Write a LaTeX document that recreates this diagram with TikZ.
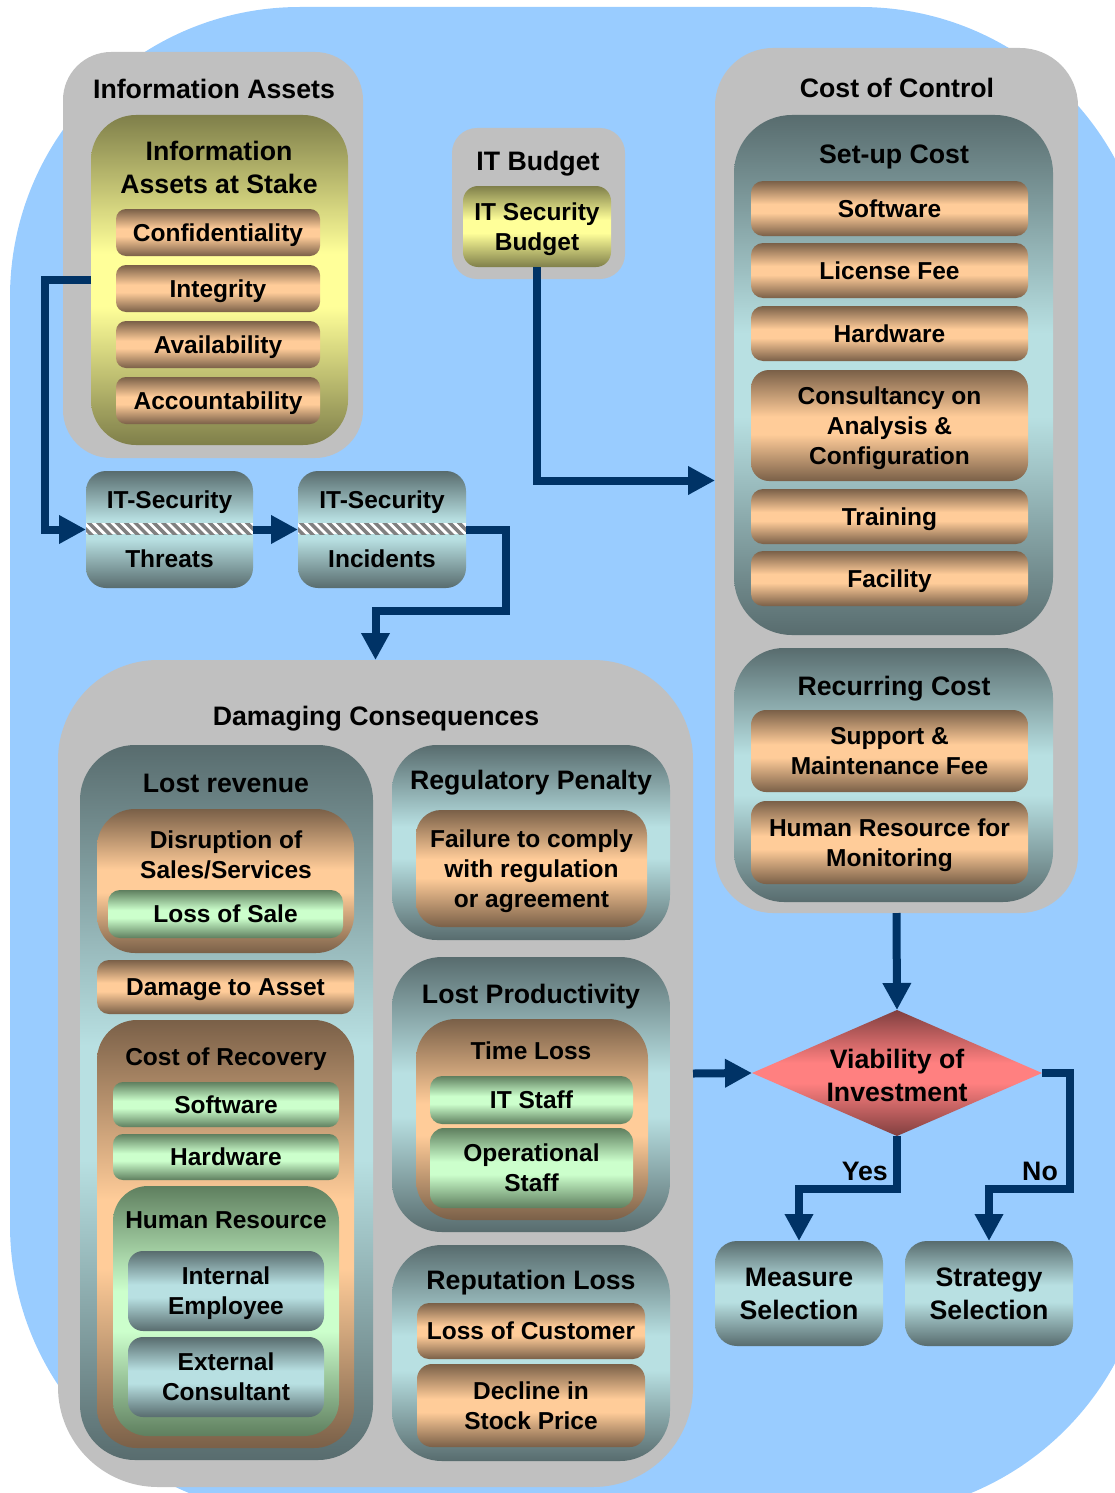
\documentclass[tikz,border=0pt]{standalone}
\usepackage{fontspec}
\setmainfont{Liberation Sans}
\usetikzlibrary{arrows.meta,shapes.geometric}

% palette
\definecolor{skyback}{HTML}{99CCFF}
\definecolor{panelgray}{HTML}{C0C0C0}
\definecolor{flowblue}{HTML}{003366}
\definecolor{slateD}{HTML}{586C6E}
\definecolor{slateL}{HTML}{B8E0E2}
\definecolor{peachD}{HTML}{7A6048}
\definecolor{peachL}{HTML}{FFCC99}
\definecolor{greenD}{HTML}{5F7F5F}
\definecolor{greenL}{HTML}{CCFFCC}
\definecolor{oliveD}{HTML}{7F7F4A}
\definecolor{oliveL}{HTML}{FFFF99}
\definecolor{roseD}{HTML}{803F3F}
\definecolor{roseL}{HTML}{FF8080}
\definecolor{hatchgray}{HTML}{808080}

% dark - light - dark vertical gradients
\newcommand\mirrorshade[3]{\pgfdeclareverticalshading{#1}{100bp}{color(0bp)=(#2); color(25bp)=(#2); color(46bp)=(#3); color(54bp)=(#3); color(75bp)=(#2); color(100bp)=(#2)}}
\mirrorshade{slateshade}{slateD}{slateL}
\mirrorshade{peachshade}{peachD}{peachL}
\mirrorshade{greenshade}{greenD}{greenL}
\mirrorshade{oliveshade}{oliveD}{oliveL}
\mirrorshade{roseshade}{roseD}{roseL}

\newcommand\TitleFont{\fontsize{26.7pt}{33pt}\selectfont\bfseries}
\newcommand\ItemFont{\fontsize{24.5pt}{30pt}\selectfont\bfseries}

% rounded box given by its corners: style, name, x1, y1, x2, y2, text
\newcommand\rbox[7]{\node[#1,minimum width={(#5)-(#3)},minimum height={(#6)-(#4)}] (#2) at ({((#3)+(#5))/2},{((#4)+(#6))/2}) {#7};}

% striped band across a box: x1, x2
\newcommand\hatchband[2]{%
  \begin{scope}
    \clip (#1,523) rectangle (#2,534);
    \fill[white] (#1,523) rectangle (#2,534);
    \foreach \k in {-2,...,20}
      \draw[hatchgray,line width=3.5pt] ({#1+\k*9.3},520) -- ({#1+\k*9.3+17},537);
  \end{scope}}

\begin{document}
\begin{tikzpicture}[x=1pt,y=-1pt,
  box/.style={rectangle,inner sep=0pt,outer sep=0pt,align=center,text depth=0pt,font=\ItemFont},
  panelbox/.style={box,fill=panelgray,rounded corners=#1pt},
  sbox/.style={box,shading=slateshade,rounded corners=#1pt},
  pbox/.style={box,shading=peachshade,rounded corners=#1pt},
  gbox/.style={box,shading=greenshade,rounded corners=#1pt},
  obox/.style={box,shading=oliveshade,rounded corners=#1pt},
  head/.style={anchor=base,inner sep=0pt,align=center,font=\TitleFont},
  subhead/.style={anchor=base,inner sep=0pt,align=center,font=\ItemFont},
  flow/.style={draw=flowblue,line width=8pt,-{Triangle[length=27pt,width=27pt]}},
  answer/.style={anchor=base east,inner sep=0pt,font=\TitleFont},
]
\useasboundingbox (0,0) rectangle (1115,1493);

% backdrop
\begin{scope}
  \clip (0,0) rectangle (1115,1493);
  \fill[skyback,rounded corners=290pt] (10,7) rectangle (1150,1515);
\end{scope}

% ---------- information assets ----------
\rbox{panelbox=48}{infoP}{63}{52}{363}{458}{}
\node[head] (infoPT) at (214,99) {Information Assets};
\rbox{obox=45}{infoIn}{91}{115}{348}{445}{}
\node[head,anchor=center] (infoInT) at (219,167) {Information\\Assets at Stake};
\rbox{pbox=10}{conf}{116}{209}{320}{256}{Confidentiality}
\rbox{pbox=10}{integ}{116}{265}{320}{312}{Integrity}
\rbox{pbox=10}{avail}{116}{321}{320}{368}{Availability}
\rbox{pbox=10}{acct}{116}{377}{320}{424}{Accountability}

% ---------- threats and incidents ----------
\rbox{sbox=20}{threats}{86}{471}{253}{588}{IT-Security\\[29pt]Threats}
\hatchband{86}{253}
\rbox{sbox=20}{incid}{298}{471}{466}{588}{IT-Security\\[29pt]Incidents}
\hatchband{298}{466}

% ---------- IT budget ----------
\rbox{panelbox=25}{budgetP}{452}{128}{625}{279}{}
\node[head] (budgetPT) at (538,170) {IT Budget};
\rbox{obox=15}{budgetIn}{463}{186}{611}{267}{IT Security\\Budget}

% ---------- cost of control ----------
\rbox{panelbox=58}{cost}{715}{48}{1078}{913}{}
\node[head] (costT) at (897,98) {Cost of Control};
\rbox{sbox=58}{setup}{734}{115}{1053}{635}{}
\node[head] (setupT) at (894,164) {Set-up Cost};
\rbox{pbox=12}{suSoft}{751}{181}{1028}{236}{Software}
\rbox{pbox=12}{suLic}{751}{243}{1028}{298}{License Fee}
\rbox{pbox=12}{suHard}{751}{306}{1028}{361}{Hardware}
\rbox{pbox=18}{suCons}{751}{370}{1028}{481}{Consultancy on\\Analysis \&\\Configuration}
\rbox{pbox=12}{suTrain}{751}{489}{1028}{544}{Training}
\rbox{pbox=12}{suFac}{751}{551}{1028}{606}{Facility}
\rbox{sbox=50}{recur}{734}{648}{1053}{902}{}
\node[head] (recurT) at (894,695) {Recurring Cost};
\rbox{pbox=15}{reSupp}{751}{710}{1028}{792}{Support \&\\Maintenance Fee}
\rbox{pbox=15}{reHR}{751}{801}{1028}{884}{Human Resource for\\Monitoring}

% ---------- damaging consequences ----------
\rbox{panelbox=100}{damage}{58}{660}{693}{1487}{}
\node[head] (damageT) at (376,725) {Damaging Consequences};

\rbox{sbox=55}{lostRev}{80}{745}{373}{1460}{}
\node[head] (lostRevT) at (226,792) {Lost revenue};
\rbox{pbox=38}{disrupt}{97}{809}{354}{953}{}
\node[subhead,anchor=center] (disruptT) at (226,855) {Disruption of\\Sales/Services};
\rbox{gbox=12}{lossSale}{108}{890}{343}{938}{Loss of Sale}
\rbox{pbox=12}{dmgAsset}{97}{960}{354}{1014}{Damage to Asset}
\rbox{pbox=40}{recov}{97}{1020}{354}{1448}{}
\node[subhead] (recovT) at (226,1065) {Cost of Recovery};
\rbox{gbox=10}{recSoft}{113}{1082}{339}{1127}{Software}
\rbox{gbox=10}{recHard}{113}{1134}{339}{1180}{Hardware}
\rbox{gbox=35}{recHR}{113}{1186}{339}{1436}{}
\node[subhead] (recHRT) at (226,1228) {Human Resource};
\rbox{sbox=15}{intEmp}{128}{1251}{324}{1331}{Internal\\Employee}
\rbox{sbox=15}{extCon}{128}{1337}{324}{1417}{External\\Consultant}

\rbox{sbox=45}{regPen}{392}{745}{670}{940}{}
\node[head] (regPenT) at (531,789) {Regulatory Penalty};
\rbox{pbox=25}{fail}{416}{810}{647}{927}{Failure to comply\\with regulation\\or agreement}

\rbox{sbox=50}{lostProd}{392}{957}{670}{1232}{}
\node[head] (lostProdT) at (531,1003) {Lost Productivity};
\rbox{pbox=40}{timeLoss}{416}{1019}{648}{1220}{}
\node[subhead] (timeLossT) at (531,1059) {Time Loss};
\rbox{gbox=12}{itStaff}{430}{1076}{633}{1124}{IT Staff}
\rbox{gbox=14}{opStaff}{430}{1128}{633}{1208}{Operational\\Staff}

\rbox{sbox=50}{repLoss}{392}{1245}{670}{1461}{}
\node[head] (repLossT) at (531,1289) {Reputation Loss};
\rbox{pbox=12}{lossCust}{417}{1303}{645}{1359}{Loss of Customer}
\rbox{pbox=15}{stock}{417}{1364}{645}{1447}{Decline in\\Stock Price}

% ---------- decision ----------
\node[diamond,inner sep=0pt,outer sep=0pt,minimum width=290pt,minimum height=126pt,shading=roseshade] (via) at (897,1073) {};
\node[head,anchor=center] (viaT) at (897,1075) {Viability of\\Investment};
\rbox{sbox=22,font=\TitleFont}{measure}{715}{1241}{883}{1346}{Measure\\Selection}
\rbox{sbox=22,font=\TitleFont}{strategy}{905}{1241}{1073}{1346}{Strategy\\Selection}

% ---------- connectors ----------
\draw[flow] (infoIn.west) -- ++(-46,0) |- (threats.west);
\draw[flow] (threats.east) -- (incid.west);
\draw[flow] (incid.east) -- ++(40,0) -- ++(0,81) -| (damage.north);
\draw[flow] (budgetIn.south) |- (cost.west);
\draw[flow] (cost.south) -- (via.north);
\draw[flow] (damage.east) -- (via.west);
\draw[flow] (via.south) -- ++(0,53) -| (measure.north);
\draw[flow] (via.east) -- ++(28,0) -- ++(0,116) -| (strategy.north);
\node[answer] (yesL) at (888,1180) {Yes};
\node[answer] (noL) at (1058,1180) {No};
\end{tikzpicture}
\end{document}
